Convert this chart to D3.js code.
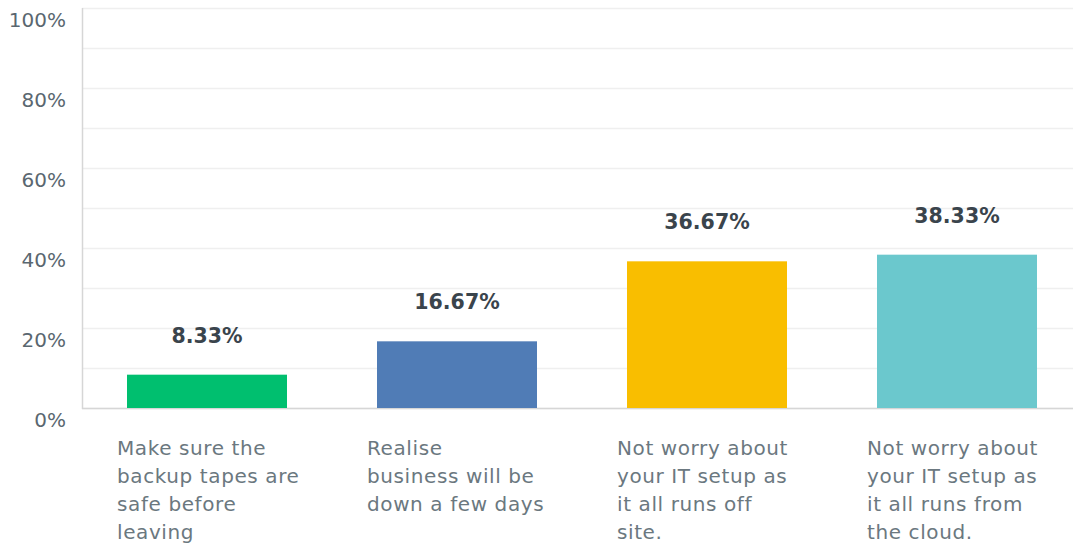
<!DOCTYPE html>
<html>
<head>
<meta charset="utf-8">
<script src="https://cdn.jsdelivr.net/npm/d3@7"></script>
<style>
  html, body { margin: 0; padding: 0; background: #fff; }
  svg { display: block; }
</style>
</head>
<body>
<svg id="chart" width="1073" height="546"></svg>
<script>
const categories = [
  "Make sure the backup tapes are safe before leaving",
  "Realise business will be down a few days",
  "Not worry about your IT setup as it all runs off site.",
  "Not worry about your IT setup as it all runs from the cloud."
];
const categoryLines = [
  ["Make sure the", "backup tapes are", "safe before", "leaving"],
  ["Realise", "business will be", "down a few days"],
  ["Not worry about", "your IT setup as", "it all runs off", "site."],
  ["Not worry about", "your IT setup as", "it all runs from", "the cloud."]
];
const values = [8.33, 16.67, 36.67, 38.33];
const colors = ["#00bf6f", "#507cb6", "#f9be00", "#6bc8cd"];
const yTicks = [0, 20, 40, 60, 80, 100];
const gridTicks = [0, 10, 20, 30, 40, 50, 60, 70, 80, 90, 100];

const svg = d3.select("#chart");
const mLeft = 82, mRight = 1082, mTop = 8, mBottom = 408;
const font = "'DejaVu Sans', sans-serif";

const x = d3.scaleBand().domain(categories).range([mLeft, mRight]).paddingInner(0.36).paddingOuter(0.18);
const y = d3.scaleLinear().domain([0, 100]).range([mBottom, mTop]);

// gridlines
svg.append("g").selectAll("line").data(gridTicks).join("line")
  .attr("x1", mLeft).attr("x2", 1073)
  .attr("y1", d => y(d) + 0.5).attr("y2", d => y(d) + 0.5)
  .attr("stroke", "#efefef").attr("stroke-width", 1.5);

// axis lines
svg.append("line").attr("x1", mLeft + 0.5).attr("x2", mLeft + 0.5).attr("y1", mTop).attr("y2", mBottom + 1)
  .attr("stroke", "#d6d6d6").attr("stroke-width", 1.5);
svg.append("line").attr("x1", mLeft).attr("x2", 1073).attr("y1", mBottom + 0.5).attr("y2", mBottom + 0.5)
  .attr("stroke", "#d6d6d6").attr("stroke-width", 1.5);

// y tick labels
svg.append("g").selectAll("text").data(yTicks).join("text")
  .attr("x", 66).attr("y", d => y(d) + 19)
  .attr("text-anchor", "end")
  .attr("font-family", font).attr("font-size", 20)
  .attr("fill", "#5a6770")
  .text(d => d + "%");

// bars
svg.append("g").selectAll("rect").data(values).join("rect")
  .attr("x", (d, i) => x(categories[i]))
  .attr("width", x.bandwidth())
  .attr("y", d => y(d))
  .attr("height", d => y(0) - y(d))
  .attr("fill", (d, i) => colors[i]);

// value labels
svg.append("g").selectAll("text").data(values).join("text")
  .attr("x", (d, i) => x(categories[i]) + x.bandwidth() / 2)
  .attr("y", d => y(d) - 32)
  .attr("text-anchor", "middle")
  .attr("font-family", font).attr("font-size", 20.5).attr("font-weight", "bold")
  .attr("fill", "#3a444c")
  .text(d => d.toFixed(2) + "%");

// category labels
const cat = svg.append("g").selectAll("text").data(categories).join("text")
  .attr("font-family", font).attr("font-size", 20)
  .attr("letter-spacing", 0.6)
  .attr("fill", "#6b787f");
cat.each(function(d, i) {
  const t = d3.select(this);
  const x0 = x(d) + x.bandwidth() / 2 - 90;
  categoryLines[i].forEach((ln, j) => {
    t.append("tspan").attr("x", x0).attr("y", 455 + j * 28).text(ln);
  });
});
</script>
</body>
</html>
